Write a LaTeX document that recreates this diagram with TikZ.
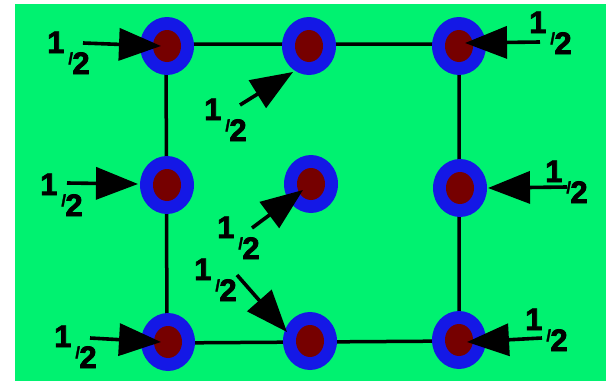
\documentclass[tikz,border=0pt]{standalone}
\usepackage{fontspec}
\setmainfont{Liberation Sans}
\newfontfamily\lblfont{Liberation Sans Bold}[FakeBold=2.5]
\usetikzlibrary{arrows.meta,shapes.geometric}
\definecolor{bggreen}{RGB}{0,242,112}
\definecolor{ringblue}{RGB}{20,24,230}
\definecolor{coredred}{RGB}{118,0,0}
\newcommand\halffrac{1\kern4pt\raisebox{-11pt}{\fontsize{16}{16}\selectfont /}\kern-0.5pt\raisebox{-21pt}{2}}
\tikzset{
  atom/.style={ellipse, minimum width=54pt, minimum height=58pt, fill=ringblue, inner sep=0pt},
  core/.style={ellipse, minimum width=28pt, minimum height=32pt, fill=coredred, inner sep=0pt},
  bond/.style={line width=3.5pt, black},
  arr/.style={line width=3.6pt, black, -{Triangle[length=42pt,width=32pt]}},
  halflbl/.style={anchor=base west, inner sep=0pt, font=\lblfont\fontsize{31}{31}\selectfont}
}
\begin{document}
\begin{tikzpicture}[x=1pt,y=-1pt]
\useasboundingbox (0,0) rectangle (606,383);
\fill[white] (0,0) rectangle (606,383);
\fill[bggreen] (15,4) rectangle (606,381);
% lattice positions
\coordinate (pTL) at (167,46);
\coordinate (pTM) at (309,46);
\coordinate (pTR) at (459,46);
\coordinate (pML) at (167,185);
\coordinate (pMC) at (311,184);
\coordinate (pMR) at (460,188);
\coordinate (pBL) at (168,342);
\coordinate (pBM) at (310,341);
\coordinate (pBR) at (459,340);
% square
\draw[bond] (166,44) -- (459,44) -- (459,341) -- (167,343) -- cycle;
% atoms
\foreach \n in {TL,TM,TR,ML,MC,MR,BL,BM,BR}{
  \node[atom] (a\n) at (p\n) {};
  \node[core] (c\n) at (p\n) {};
}
% arrow coordinates
\coordinate (sTL) at (83,43);   \coordinate (tTL) at (161,46);
\coordinate (sML) at (67,183);  \coordinate (tML) at (138,184);
\coordinate (sBL) at (90,338);  \coordinate (tBL) at (161,342);
\coordinate (sTR) at (540,42);  \coordinate (tTR) at (465,43);
\coordinate (sMR) at (567,187); \coordinate (tMR) at (488,188);
\coordinate (sBR) at (542,338); \coordinate (tBR) at (467,342);
\coordinate (sTM) at (240,105); \coordinate (tTM) at (293,72);
\coordinate (sMC) at (252,228); \coordinate (tMC) at (303,190);
\coordinate (sBM) at (237,275); \coordinate (tBM) at (287,332);
\foreach \n in {TL,ML,BL,TR,MR,BR,TM,MC,BM}{
  \draw[arr] (s\n) -- (t\n);
}
% labels
\node[halflbl] (lTL) at (47,53) {\halffrac};
\node[halflbl] (lML) at (40,195) {\halffrac};
\node[halflbl] (lBL) at (54,347) {\halffrac};
\node[halflbl] (lTR) at (529,33) {\halffrac};
\node[halflbl] (lMR) at (545,182) {\halffrac};
\node[halflbl] (lBR) at (525,330) {\halffrac};
\node[halflbl] (lTM) at (204,120) {\halffrac};
\node[halflbl] (lMC) at (217,238) {\halffrac};
\node[halflbl] (lBM) at (194,280) {\halffrac};
\end{tikzpicture}
\end{document}
